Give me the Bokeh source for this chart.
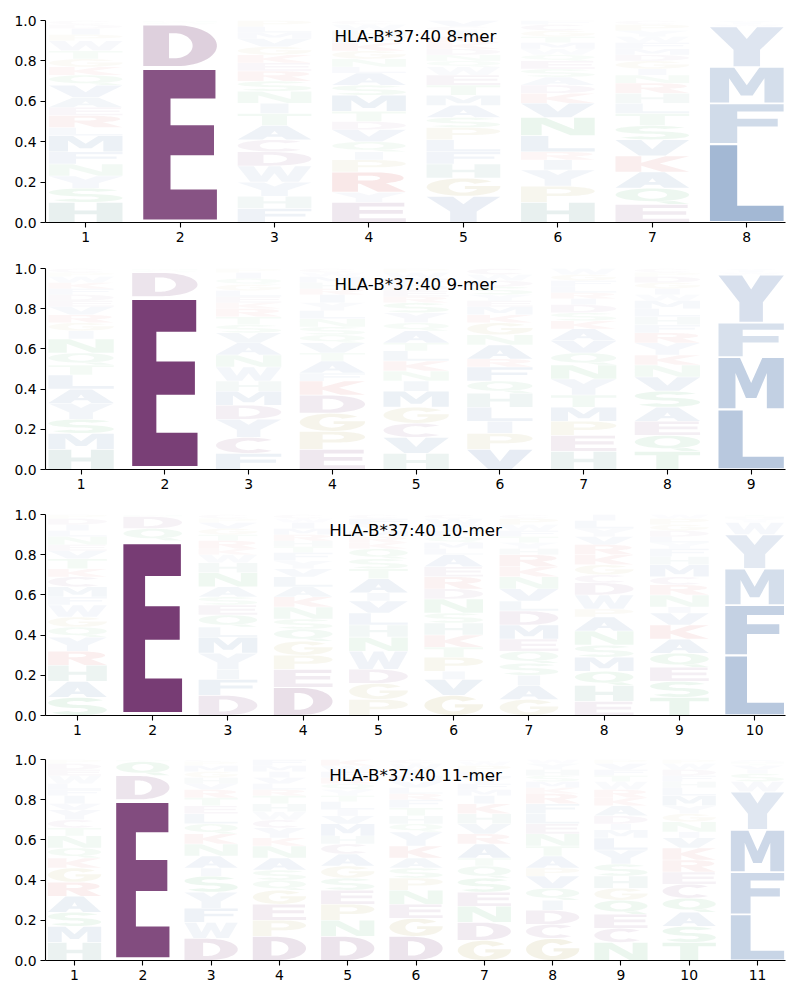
import numpy as np
from bokeh.plotting import figure
from bokeh.models import ColumnDataSource, FixedTicker, Range1d, Label, NumeralTickFormatter
from bokeh.layouts import column
from bokeh.embed import file_html
from bokeh.resources import INLINE

allele = "HLA-B*37:40"
lengths = [8, 9, 10, 11]

# letter stacks per position, bottom -> top: (amino acid, frequency)
logo_8mer = [
    [("H",.10),("S",.07),("Y",.06),("N",.06),("F",.06),("M",.08),("L",.04),("R",.06),("E",.04),("A",.05),("V",.06),("Q",.05),("K",.04),("G",.04),("T",.04),("W",.05),("P",.03),("I",.03),("D",.02),("C",.02)],
    [("E",.77),("D",.21),("Q",.01),("N",.01)],
    [("F",.07),("H",.06),("Y",.07),("W",.08),("D",.07),("C",.06),("A",.07),("T",.06),("I",.05),("N",.06),("S",.05),("R",.05),("E",.04),("K",.04),("G",.04),("V",.04),("M",.03),("L",.03),("P",.03)],
    [("E",.10),("Y",.05),("R",.10),("P",.06),("I",.04),("Q",.05),("V",.06),("D",.04),("T",.05),("M",.08),("S",.05),("A",.06),("L",.03),("N",.04),("G",.04),("K",.04),("F",.03),("H",.03),("W",.03),("C",.02)],
    [("Y",.13),("G",.09),("H",.07),("F",.06),("L",.06),("P",.06),("S",.05),("A",.06),("M",.05),("T",.05),("E",.05),("W",.04),("Q",.03),("N",.03),("D",.03),("K",.03),("R",.03),("I",.03),("C",.02),("V",.03)],
    [("H",.10),("P",.08),("Y",.08),("I",.05),("R",.04),("L",.08),("N",.09),("V",.07),("K",.05),("D",.04),("A",.04),("S",.04),("E",.04),("Q",.03),("W",.03),("M",.03),("T",.03),("G",.03),("C",.03),("F",.02)],
    [("E",.09),("Q",.08),("A",.08),("K",.08),("V",.08),("S",.07),("T",.06),("L",.05),("H",.05),("R",.05),("N",.04),("I",.03),("G",.04),("D",.03),("M",.03),("F",.03),("W",.03),("Y",.03),("P",.03),("C",.02)],
    [("L",.39),("F",.20),("M",.18),("Y",.20),("W",.01),("I",.01),("V",.01)],
]
logo_9mer = [
    [("H",.10),("M",.08),("S",.07),("Y",.08),("A",.07),("L",.07),("T",.05),("Q",.06),("N",.07),("I",.04),("G",.04),("R",.04),("V",.04),("E",.03),("D",.03),("F",.03),("K",.03),("W",.03),("P",.02),("C",.02)],
    [("E",.86),("D",.12),("Q",.01),("N",.01)],
    [("F",.08),("C",.08),("Y",.09),("D",.07),("M",.07),("H",.05),("W",.07),("N",.06),("A",.06),("V",.05),("S",.04),("T",.04),("R",.04),("K",.03),("E",.03),("L",.03),("G",.03),("Q",.03),("I",.03),("P",.02)],
    [("E",.10),("P",.09),("G",.09),("D",.09),("K",.07),("F",.04),("A",.06),("T",.04),("V",.05),("Q",.04),("S",.04),("N",.04),("L",.04),("Y",.04),("I",.04),("R",.03),("H",.03),("M",.03),("W",.02),("C",.02)],
    [("H",.08),("V",.08),("C",.07),("G",.08),("M",.08),("I",.05),("N",.05),("K",.05),("L",.05),("T",.04),("A",.06),("Q",.04),("Y",.05),("S",.05),("R",.03),("E",.03),("D",.03),("F",.03),("W",.03),("P",.02)],
    [("V",.10),("P",.08),("I",.06),("L",.07),("H",.07),("Q",.06),("F",.07),("R",.04),("A",.07),("N",.05),("G",.06),("K",.04),("M",.04),("E",.03),("Y",.03),("S",.04),("D",.03),("W",.03),("C",.03)],
    [("H",.09),("E",.08),("P",.07),("M",.07),("T",.06),("Y",.08),("N",.07),("Q",.06),("V",.06),("A",.06),("K",.04),("S",.04),("D",.04),("I",.03),("R",.03),("L",.03),("F",.03),("G",.03),("W",.03)],
    [("T",.09),("Q",.08),("E",.07),("A",.07),("S",.08),("V",.07),("N",.06),("K",.05),("Y",.06),("R",.05),("F",.04),("H",.04),("L",.04),("M",.04),("W",.03),("I",.03),("G",.03),("D",.03),("P",.02),("C",.02)],
    [("L",.30),("M",.26),("F",.17),("Y",.24),("W",.01),("I",.01),("V",.01)],
]
logo_10mer = [
    [("S",.09),("A",.08),("H",.08),("R",.07),("Y",.07),("Q",.05),("G",.05),("W",.06),("F",.04),("M",.05),("C",.05),("K",.04),("T",.05),("V",.04),("E",.03),("N",.04),("L",.03),("I",.03),("D",.03),("P",.02)],
    [("E",.87),("Q",.06),("D",.06),("N",.01)],
    [("D",.10),("F",.08),("I",.05),("Y",.08),("M",.08),("L",.05),("Q",.06),("E",.05),("S",.04),("A",.05),("N",.07),("H",.05),("W",.04),("K",.03),("R",.04),("T",.03),("G",.03),("V",.03),("P",.02),("C",.02)],
    [("D",.14),("E",.09),("P",.07),("G",.07),("Q",.06),("S",.05),("N",.06),("K",.05),("A",.05),("L",.05),("V",.04),("Y",.04),("F",.04),("T",.03),("H",.03),("R",.03),("M",.03),("I",.03),("W",.02),("C",.02)],
    [("P",.08),("G",.08),("D",.07),("W",.09),("N",.07),("H",.06),("L",.06),("V",.06),("I",.04),("A",.07),("T",.05),("S",.05),("Q",.05),("K",.03),("R",.03),("M",.03),("Y",.03),("F",.03),("C",.02)],
    [("G",.10),("V",.08),("I",.04),("P",.07),("T",.05),("K",.06),("H",.06),("S",.05),("N",.07),("D",.05),("R",.06),("E",.05),("A",.06),("L",.03),("M",.03),("Q",.03),("F",.03),("Y",.03),("W",.03),("C",.02)],
    [("G",.08),("A",.07),("I",.05),("S",.06),("Q",.06),("E",.06),("M",.07),("D",.07),("L",.05),("V",.06),("N",.06),("K",.05),("R",.06),("H",.03),("Y",.03),("T",.03),("F",.03),("W",.03),("P",.03),("C",.02)],
    [("E",.07),("H",.08),("Q",.07),("M",.07),("S",.06),("N",.07),("A",.07),("P",.04),("W",.07),("D",.06),("C",.04),("G",.05),("K",.05),("R",.05),("V",.04),("Y",.04),("L",.04),("I",.03)],
    [("T",.09),("S",.08),("E",.07),("Q",.07),("A",.07),("K",.07),("V",.06),("I",.03),("N",.06),("R",.05),("C",.04),("M",.06),("H",.04),("F",.04),("Y",.03),("L",.03),("D",.03),("G",.03),("P",.03),("W",.02)],
    [("L",.30),("F",.25),("M",.18),("Y",.17),("W",.06),("I",.01),("V",.01),("H",.01),("T",.01)],
]
logo_11mer = [
    [("H",.09),("M",.08),("S",.07),("A",.08),("R",.07),("G",.07),("K",.05),("Q",.05),("N",.06),("T",.04),("C",.04),("Y",.05),("V",.03),("I",.04),("F",.03),("L",.03),("W",.04),("E",.03),("D",.03),("P",.02)],
    [("E",.80),("D",.12),("Q",.07),("N",.01)],
    [("D",.11),("W",.08),("F",.07),("Y",.08),("S",.08),("I",.04),("A",.06),("N",.06),("K",.05),("Q",.05),("L",.05),("E",.04),("T",.04),("R",.04),("V",.03),("H",.03),("G",.03),("M",.03),("P",.02),("C",.01)],
    [("D",.12),("P",.08),("E",.08),("G",.07),("Q",.05),("S",.05),("A",.06),("N",.06),("K",.04),("Y",.05),("C",.04),("W",.04),("H",.04),("T",.04),("R",.03),("L",.03),("V",.03),("I",.03),("M",.03),("F",.03)],
    [("D",.12),("N",.08),("P",.08),("E",.07),("S",.06),("G",.06),("A",.06),("C",.05),("H",.04),("M",.06),("V",.04),("I",.03),("L",.04),("T",.03),("Y",.03),("Q",.03),("R",.03),("F",.03),("W",.03),("K",.03)],
    [("D",.12),("G",.09),("E",.07),("N",.07),("P",.06),("S",.05),("A",.05),("K",.06),("Y",.07),("Q",.04),("H",.04),("T",.04),("F",.04),("R",.03),("L",.03),("V",.03),("M",.03),("I",.03),("W",.03),("C",.02)],
    [("G",.10),("D",.09),("N",.08),("E",.07),("S",.07),("Q",.06),("T",.04),("A",.07),("R",.05),("V",.05),("H",.05),("K",.05),("I",.04),("M",.03),("F",.03),("Y",.03),("L",.03),("P",.03),("W",.02),("C",.01)],
    [("G",.11),("C",.07),("D",.07),("I",.05),("Q",.06),("V",.06),("P",.04),("A",.06),("T",.05),("N",.06),("E",.05),("L",.05),("F",.05),("R",.05),("K",.03),("M",.03),("S",.03),("H",.03),("Y",.03),("W",.02)],
    [("N",.09),("C",.07),("E",.07),("Q",.07),("G",.06),("H",.06),("S",.06),("Y",.07),("L",.06),("M",.04),("I",.03),("D",.04),("A",.05),("K",.04),("R",.04),("W",.04),("T",.03),("F",.03),("V",.03),("P",.02)],
    [("T",.09),("S",.08),("A",.07),("Q",.07),("C",.07),("E",.06),("R",.06),("K",.06),("V",.05),("I",.03),("N",.05),("G",.04),("Y",.04),("M",.05),("L",.04),("H",.03),("F",.03),("D",.03),("W",.03),("P",.02)],
    [("L",.23),("F",.21),("M",.21),("Y",.19),("W",.05),("S",.04),("I",.02),("V",.02),("T",.01),("H",.01),("A",.01)],
]
logos = [logo_8mer, logo_9mer, logo_10mer, logo_11mer]

# colour scheme (full-opacity colours; letter opacity follows its frequency)
aa_colors = {}
for aa in "DEC":
    aa_colors[aa] = "#631f5f"
for aa in "LFMIVA":
    aa_colors[aa] = "#134991"
for aa in "YW":
    aa_colors[aa] = "#5a7db4"
for aa in "STNQ":
    aa_colors[aa] = "#1f9a3f"
for aa in "GP":
    aa_colors[aa] = "#9a8a20"
for aa in "KR":
    aa_colors[aa] = "#c02020"
aa_colors["H"] = "#1f6f5f"


# ---------- block-letter shapes in a unit box (style only) ----------
def arc(cx, cy, rx, ry, a0, a1, n=30):
    t = np.radians(np.linspace(a0, a1, n))
    return list(zip(cx + rx * np.cos(t), cy + ry * np.sin(t)))


def s_shape():
    hx, hy = 0.16, 0.09
    rx = 0.5 - hx
    ry = (0.5 - hy) / 2
    c1, c2 = 0.5 + ry, 0.5 - ry
    up_out = arc(0.5, c1, rx + hx, ry + hy, 30, 270)
    up_in = arc(0.5, c1, rx - hx, ry - hy, 30, 270)
    lo_out = arc(0.5, c2, rx + hx, ry + hy, 90, -150)
    lo_in = arc(0.5, c2, rx - hx, ry - hy, 90, -150)
    side_a = up_out + lo_in
    side_b = up_in + lo_out
    return [[side_a + side_b[::-1]]]


SHAPES = {
    "A": [[[(0, 0), (0.33, 1), (0.67, 1), (1, 0), (0.66, 0), (0.6, 0.2), (0.4, 0.2), (0.34, 0)],
           [(0.45, 0.37), (0.55, 0.37), (0.5, 0.62)]]],
    "C": [[arc(0.5, 0.5, 0.5, 0.5, 45, 315) + arc(0.5, 0.5, 0.2, 0.31, 315, 45)]],
    "D": [[[(0, 0), (0, 1), (0.45, 1)] + arc(0.45, 0.5, 0.55, 0.5, 90, -90) + [(0.45, 0)],
           [(0.35, 0.19), (0.42, 0.19)] + arc(0.42, 0.5, 0.25, 0.31, -90, 90) + [(0.42, 0.81), (0.35, 0.81)]]],
    "E": [[[(0, 0), (1, 0), (1, 0.2), (0.37, 0.2), (0.37, 0.43), (0.96, 0.43), (0.96, 0.63),
            (0.37, 0.63), (0.37, 0.81), (0.98, 0.81), (0.98, 1), (0, 1)]]],
    "F": [[[(0, 0), (0.37, 0), (0.37, 0.42), (0.92, 0.42), (0.92, 0.62), (0.37, 0.62),
            (0.37, 0.81), (1, 0.81), (1, 1), (0, 1)]]],
    "G": [[arc(0.5, 0.5, 0.5, 0.5, 40, 360) + [(1, 0.56), (0.52, 0.56), (0.52, 0.4), (0.69, 0.4)]
           + arc(0.5, 0.5, 0.2, 0.31, 341, 40)]],
    "H": [[[(0, 0), (0, 1), (0.35, 1), (0.35, 0.6), (0.65, 0.6), (0.65, 1), (1, 1), (1, 0),
            (0.65, 0), (0.65, 0.4), (0.35, 0.4), (0.35, 0)]]],
    "I": [[[(0.31, 0), (0.69, 0), (0.69, 1), (0.31, 1)]]],
    "K": [[[(0, 0), (0, 1), (0.35, 1), (0.35, 0.58), (0.68, 1), (1, 1), (0.6, 0.52), (1, 0),
            (0.63, 0), (0.35, 0.38), (0.35, 0)]]],
    "L": [[[(0, 0), (1, 0), (1, 0.2), (0.37, 0.2), (0.37, 1), (0, 1)]]],
    "M": [[[(0, 0), (0, 1), (0.33, 1), (0.5, 0.5), (0.67, 1), (1, 1), (1, 0), (0.74, 0),
            (0.74, 0.7), (0.58, 0.2), (0.42, 0.2), (0.26, 0.7), (0.26, 0)]]],
    "N": [[[(0, 0), (0, 1), (0.33, 1), (0.72, 0.35), (0.72, 1), (1, 1), (1, 0), (0.67, 0),
            (0.28, 0.65), (0.28, 0)]]],
    "P": [[[(0, 0), (0, 1), (0.58, 1)] + arc(0.58, 0.69, 0.42, 0.31, 90, -90) + [(0.35, 0.38), (0.35, 0)],
           [(0.35, 0.55), (0.52, 0.55)] + arc(0.52, 0.69, 0.16, 0.14, -90, 90) + [(0.52, 0.83), (0.35, 0.83)]]],
    "Q": [[arc(0.5, 0.59, 0.5, 0.41, 0, 360), arc(0.5, 0.59, 0.2, 0.25, 0, 360)],
          [[(0.55, 0.16), (0.72, 0), (1, 0), (0.8, 0.2)]]],
    "R": [[[(0, 0), (0, 1), (0.55, 1)] + arc(0.55, 0.71, 0.42, 0.29, 90, -65)
           + [(1, 0), (0.62, 0), (0.38, 0.42), (0.35, 0.42), (0.35, 0)],
           [(0.35, 0.58), (0.5, 0.58)] + arc(0.5, 0.705, 0.15, 0.125, -90, 90) + [(0.5, 0.83), (0.35, 0.83)]]],
    "S": s_shape(),
    "T": [[[(0, 1), (1, 1), (1, 0.8), (0.67, 0.8), (0.67, 0), (0.33, 0), (0.33, 0.8), (0, 0.8)]]],
    "V": [[[(0, 1), (0.35, 1), (0.5, 0.4), (0.65, 1), (1, 1), (0.68, 0), (0.32, 0)]]],
    "W": [[[(0, 1), (0.22, 1), (0.32, 0.38), (0.42, 1), (0.58, 1), (0.68, 0.38), (0.78, 1), (1, 1),
            (0.83, 0), (0.6, 0), (0.5, 0.55), (0.4, 0), (0.17, 0)]]],
    "Y": [[[(0, 1), (0.36, 1), (0.5, 0.7), (0.64, 1), (1, 1), (0.68, 0.42), (0.68, 0), (0.32, 0),
            (0.32, 0.42)]]],
}

HALF_W = 0.4
HPAD = 0.01
VPAD = 0.02
x_lo_pad, x_hi_pad = 0.575, 0.41


def build_source(logo):
    xs, ys, colors, alphas = [], [], [], []
    for i, col in enumerate(logo):
        pos = i + 1
        x0 = pos - HALF_W + HPAD
        w = 2 * (HALF_W - HPAD)
        base = 0.0
        for aa, h in col:
            y0 = base + h * VPAD
            gh = h * (1 - 2 * VPAD)
            mx, my = [], []
            for poly in SHAPES[aa]:
                px, py = [], []
                for ring in poly:
                    px.append([x0 + u * w for u, v in ring])
                    py.append([y0 + v * gh for u, v in ring])
                mx.append(px)
                my.append(py)
            xs.append(mx)
            ys.append(my)
            colors.append(aa_colors[aa])
            alphas.append(min(1.0, h))
            base += h
    return ColumnDataSource(dict(xs=xs, ys=ys, color=colors, alpha=alphas))


fig_tops = [20, 21, 20, 19]
fig_bottoms = [25, 25, 25, 39]
figs = []
for k, (n, logo) in enumerate(zip(lengths, logos)):
    xr = Range1d(x_lo_pad, n + x_hi_pad)
    p = figure(width=800, frame_width=740, frame_height=201 if k else 202,
               x_range=xr, y_range=Range1d(0, 1),
               output_backend="svg", toolbar_location=None, tools="",
               min_border_left=45, min_border_right=15,
               min_border_top=fig_tops[k], min_border_bottom=fig_bottoms[k])
    p.outline_line_color = None
    p.xgrid.visible = False
    p.ygrid.visible = False
    src = build_source(logo)
    p.multi_polygons(xs="xs", ys="ys", source=src, fill_color="color",
                     fill_alpha="alpha", line_color=None)
    p.xaxis.ticker = FixedTicker(ticks=list(range(1, n + 1)))
    p.yaxis.ticker = FixedTicker(ticks=[0, 0.2, 0.4, 0.6, 0.8, 1.0])
    p.yaxis.formatter = NumeralTickFormatter(format="0.0")
    for ax in (p.xaxis[0], p.yaxis[0]):
        ax.axis_line_color = "black"
        ax.axis_line_width = 1.1
        ax.major_tick_line_color = "black"
        ax.major_tick_line_width = 1.1
        ax.major_tick_out = 5
        ax.major_tick_in = 0
        ax.minor_tick_line_color = None
        ax.major_label_text_font = "DejaVu Sans"
        ax.major_label_text_font_size = "13.9px"
        ax.major_label_text_color = "black"
        ax.major_label_standoff = 4
    title = Label(x=(x_lo_pad + n + x_hi_pad) / 2, y=0.925, text=f"{allele} {n}-mer",
                  text_align="center", text_baseline="middle",
                  text_font="DejaVu Sans", text_font_size="16.7px", text_color="black")
    p.add_layout(title)
    figs.append(p)

layout = column(*figs, spacing=0)
open("out.html", "w").write(file_html(layout, INLINE))
